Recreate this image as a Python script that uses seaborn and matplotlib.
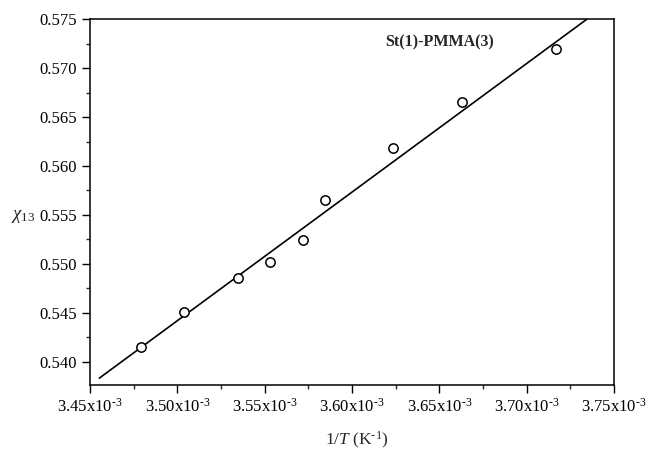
import numpy as np
import pandas as pd
import matplotlib
matplotlib.use("Agg")
import matplotlib.pyplot as plt
import seaborn as sns
from matplotlib.ticker import MultipleLocator, FuncFormatter

# data
inv_T = [3.4793e-3, 3.5037e-3, 3.5347e-3, 3.5531e-3, 3.5718e-3,
         3.5848e-3, 3.6236e-3, 3.6629e-3, 3.7169e-3]
chi13 = [0.5415, 0.5451, 0.5485, 0.5502, 0.5524,
         0.5565, 0.5618, 0.5665, 0.5720]
# fitted line end points
fit_x = [3.4553e-3, 3.7344e-3]
fit_y = [0.5383, 0.5750]

label = "St(1)-PMMA(3)"

df = pd.DataFrame({"x": inv_T, "y": chi13})
fit = pd.DataFrame({"x": fit_x, "y": fit_y})

sns.set_style("ticks")
plt.rcParams['font.family'] = ['Liberation Serif', 'DejaVu Serif']
plt.rcParams['mathtext.fontset'] = 'custom'
plt.rcParams['mathtext.rm'] = 'Liberation Serif'
plt.rcParams['mathtext.it'] = 'Liberation Serif:italic'

fig = plt.figure(figsize=(6.49, 4.5), dpi=100)
ax = fig.add_axes([0.1387, 0.1444, 0.8073, 0.8127])

sns.lineplot(data=fit, x="x", y="y", ax=ax, color="black", linewidth=1.2)
sns.scatterplot(data=df, x="x", y="y", ax=ax, marker="o", s=45,
                facecolor="white", edgecolor="black", linewidth=1.1, zorder=3)

ax.set_xlim(3.45e-3, 3.75e-3)
ax.set_ylim(0.5376, 0.575)

ax.xaxis.set_major_locator(MultipleLocator(0.05e-3))
ax.xaxis.set_minor_locator(MultipleLocator(0.025e-3))
ax.yaxis.set_major_locator(MultipleLocator(0.005))
ax.yaxis.set_minor_locator(MultipleLocator(0.0025))
ax.xaxis.set_major_formatter(FuncFormatter(lambda v, p: r"%.2fx10$^{\text{-3}}$" % (v * 1e3)))
ax.yaxis.set_major_formatter(FuncFormatter(lambda v, p: "%.3f" % v))

ax.tick_params(which="major", direction="out", length=6, width=1, labelsize=12, colors="black")
ax.tick_params(which="minor", direction="out", length=3, width=1)
for s in ax.spines.values():
    s.set_visible(True)
    s.set_linewidth(1.1)
    s.set_color("black")

ax.set_xlabel(r"1/$T$ (K$^{\text{-1}}$)", fontsize=12.5)
ax.set_ylabel(r"$\chi_{13}$", fontsize=13.5, rotation=0, va="center", ha="center")
ax.xaxis.set_label_coords(0.51, -0.124)
ax.yaxis.set_label_coords(-0.128, 0.462)

ax.text(0.563, 0.938, label, transform=ax.transAxes, fontsize=11.5,
        fontweight="bold", va="center", ha="left")

fig.savefig("out.png", dpi=100)
